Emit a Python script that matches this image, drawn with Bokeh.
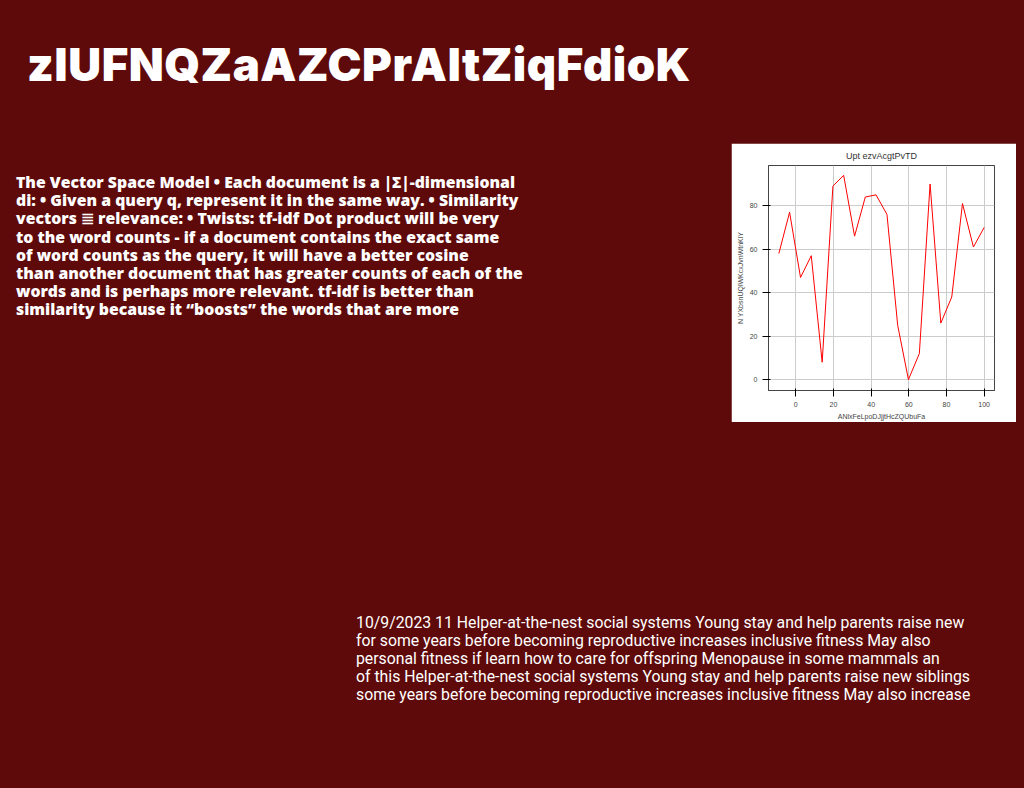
from bokeh.embed import file_html
from bokeh.resources import INLINE
from bokeh.layouts import column, row
from bokeh.models import Div, Spacer
from bokeh.plotting import figure

BG = "#5f0a0a"

title_text = "zlUFNQZaAZCPrAltZiqFdioK"
para_lines = [
    "The Vector Space Model \u2022 Each document is a |\u03a3|-dimensional",
    "di: \u2022 Given a query q, represent it in the same way. \u2022 Similarity",
    "vectors \u2263 relevance: \u2022 Twists:  tf-idf Dot product will be very",
    "to the word counts - if a document contains the exact same",
    "of word counts as the query, it will have a better cosine",
    "than another document that has greater counts of each of the",
    "words and is perhaps more relevant. tf-idf is better than",
    "similarity because it \u201cboosts\u201d the words that are more",
]
bottom_lines = [
    "10/9/2023 11 Helper-at-the-nest social systems Young stay and help parents raise new",
    "for some years before becoming reproductive increases inclusive fitness May also",
    "personal fitness if learn how to care for offspring Menopause in some mammals an",
    "of this Helper-at-the-nest social systems Young stay and help parents raise new siblings",
    "some years before becoming reproductive increases inclusive fitness May also increase",
]

inset_title = "Upt ezvAcgtPvTD"
x_label = "ANlxFeLpoDJjjtHcZQUbuFa"
y_label = "N YXbsnUQlWKcxJvnWtnKlY"
xs = [-9, -3.3, 2.5, 8.2, 14, 19.7, 25.4, 31.2, 36.9, 42.6, 48.4, 54.1, 59.8,
      65.6, 71.3, 77, 82.8, 88.5, 94.3, 100]
ys = [58, 77, 47, 57, 8, 89, 94, 66, 84, 85, 76, 25, 0, 12, 90, 26, 38, 81, 61, 70]

title = Div(
    text=title_text, width=1000, height=120,
    styles={"color": "white", "font-family": "Inter", "font-weight": "900",
            "font-size": "45.5px", "padding-top": "19px", "padding-left": "14px",
            "letter-spacing": "0.5px"},
)
para = Div(
    text="<br>".join(para_lines), width=700, height=284,
    styles={"color": "white", "font-family": "Open Sans", "font-weight": "800",
            "font-size": "15.8px", "line-height": "18.2px", "padding-top": "30px",
            "padding-left": "3px", "white-space": "nowrap"},
)

inset = figure(width=292, height=279, output_backend="svg", toolbar_location=None,
               title=inset_title, x_range=(-14.5, 105.5), y_range=(-5, 98.5),
               min_border_left=37, min_border_right=29, min_border_top=10,
               min_border_bottom=30)
inset.background_fill_color = "white"
inset.border_fill_color = "white"
inset.outline_line_color = "#444444"
inset.title.align = "center"
inset.title.text_font_size = "9px"
inset.title.text_font_style = "normal"
inset.title.text_color = "#333333"
inset.xaxis.axis_label = x_label
inset.yaxis.axis_label = y_label
for ax in (inset.xaxis, inset.yaxis):
    ax.axis_label_text_font_size = "7px"
    ax.axis_label_text_font_style = "normal"
    ax.major_label_text_font_size = "7px"
    ax.axis_label_standoff = 3
    ax.minor_tick_line_color = None
    ax.axis_line_color = "#444444"
inset.xaxis.ticker = [0, 20, 40, 60, 80, 100]
inset.yaxis.ticker = [0, 20, 40, 60, 80]
inset.grid.grid_line_color = "#cccccc"
inset.line(xs, ys, line_color="red", line_width=1)

top_row = row(para, Spacer(width=13), column(Spacer(height=5), inset), spacing=0)

bottom = Div(
    text="<br>".join(bottom_lines), width=680, height=120,
    margin=(182, 0, 0, 348),
    styles={"color": "white", "font-family": "Roboto", "font-size": "15.8px",
            "line-height": "18px", "white-space": "nowrap"},
)

p = column(title, top_row, bottom, width=1016, height=780,
           styles={"background-color": BG})

html = file_html(p, INLINE)
html = html.replace("<body>", '<body style="background-color:%s;margin:8px;overflow:hidden">' % BG)
open("out.html", "w").write(html)
